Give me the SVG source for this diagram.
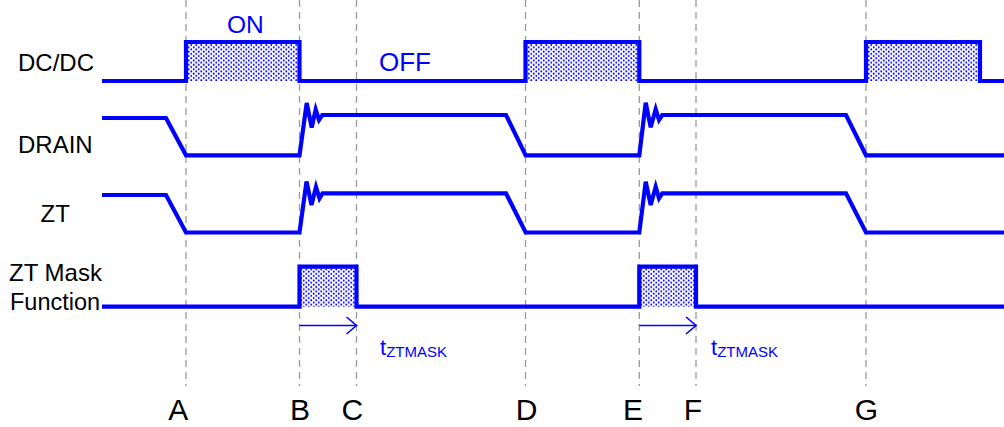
<svg xmlns="http://www.w3.org/2000/svg" width="1004" height="427" viewBox="0 0 1004 427">
<style>
.grid{stroke:#9a9a9a;stroke-width:1.3;stroke-dasharray:7 5;fill:none}
.trace{stroke:#0000ff;stroke-width:4.2;fill:none;stroke-linejoin:miter}
.pulse{fill:url(#dots);stroke:none}
.lbl{font-family:"Liberation Sans",Arial,sans-serif;fill:#000}
.blue{font-family:"Liberation Sans",Arial,sans-serif;fill:#0000ff}
.arr{stroke:#0000ff;stroke-width:1.6;fill:none}
</style>
<defs>
<pattern id="dots" width="5" height="4.4" patternUnits="userSpaceOnUse">
<rect width="5" height="4.4" fill="#ffffff"/>
<circle cx="1.25" cy="1.1" r="1" fill="#0a0aff"/>
<circle cx="3.75" cy="3.3" r="1" fill="#0a0aff"/>
</pattern>
<marker id="open" markerWidth="12" markerHeight="20" refX="11" refY="10" orient="auto" markerUnits="userSpaceOnUse">
<path d="M1,1.5 L11,10 L1,18.5" stroke="#0000ff" stroke-width="1.6" fill="none"/>
</marker>
</defs>
<g id="gridlines">
<line class="grid" x1="186" y1="0" x2="186" y2="386"/>
<line class="grid" x1="299.5" y1="0" x2="299.5" y2="386"/>
<line class="grid" x1="356.5" y1="0" x2="356.5" y2="386"/>
<line class="grid" x1="525.5" y1="0" x2="525.5" y2="386"/>
<line class="grid" x1="639.3" y1="0" x2="639.3" y2="386"/>
<line class="grid" x1="696" y1="0" x2="696" y2="386"/>
<line class="grid" x1="866" y1="0" x2="866" y2="386"/>
</g>
<g id="dcdc">
<rect class="pulse" x="186" y="42" width="113.5" height="39"/>
<rect class="pulse" x="525.5" y="42" width="113.8" height="39"/>
<rect class="pulse" x="866" y="42" width="114" height="39"/>
<path class="trace" d="M102,81 H186 V42 H299.5 V81 H525.5 V42 H639.3 V81 H866 V42 H980 V81 H1004"/>
<text class="lbl" x="18" y="71" font-size="24">DC/DC</text>
<text class="blue" x="227" y="32.5" font-size="24.5">ON</text>
<text class="blue" x="379" y="71" font-size="26">OFF</text>
</g>
<g id="drain">
<path class="trace" d="M102,118 H166 L186,155.3 H299.5 L306.7,103 L311.7,127.5 L315.7,109.5 L319,120 L322.3,115 H506 L525.7,155.3 H639.3 L645.7,102.7 L650.7,127.3 L655.7,109.3 L659,120 L662.3,115 H846 L866,155.3 H1004"/>
<text class="lbl" x="18" y="153" font-size="24">DRAIN</text>
</g>
<g id="zt">
<path class="trace" d="M102,195 H166 L186,232.5 H299.5 L306.5,181.5 L311.5,205 L316,187 L319.5,198.3 L322.5,193.3 H506 L525.7,232.5 H639.3 L645.7,181.7 L650.7,205 L655.7,186.7 L659,198.3 L662.3,193.3 H846 L866,232.5 H1004"/>
<text class="lbl" x="40.5" y="222" font-size="24">ZT</text>
</g>
<g id="ztmask">
<rect class="pulse" x="299.5" y="266.7" width="57" height="40"/>
<rect class="pulse" x="639.3" y="266.7" width="56.7" height="40"/>
<path class="trace" d="M102,306.7 H299.5 V266.7 H356.5 V306.7 H639.3 V266.7 H696 V306.7 H1004"/>
<text class="lbl" x="9" y="281" font-size="24">ZT Mask</text>
<text class="lbl" x="10" y="310" font-size="23.5">Function</text>
</g>
<g id="connectors">
<line class="arr" x1="299.5" y1="325.5" x2="356.5" y2="325.5" marker-end="url(#open)"/>
<line class="arr" x1="639.3" y1="325.5" x2="696" y2="325.5" marker-end="url(#open)"/>
</g>
<g id="tmask1">
<text class="blue" x="380" y="355" font-size="22">t<tspan font-size="15" dy="2">ZTMASK</tspan></text>
</g>
<g id="tmask2">
<text class="blue" x="711" y="355" font-size="22">t<tspan font-size="15" dy="2">ZTMASK</tspan></text>
</g>
<g id="markers">
<text class="lbl" x="178.3" y="420" font-size="30" text-anchor="middle">A</text>
<text class="lbl" x="300" y="420" font-size="30" text-anchor="middle">B</text>
<text class="lbl" x="352.3" y="420" font-size="30" text-anchor="middle">C</text>
<text class="lbl" x="526.5" y="420" font-size="30" text-anchor="middle">D</text>
<text class="lbl" x="633" y="420" font-size="30" text-anchor="middle">E</text>
<text class="lbl" x="693" y="420" font-size="30" text-anchor="middle">F</text>
<text class="lbl" x="866.5" y="420" font-size="30" text-anchor="middle">G</text>
</g>
</svg>
